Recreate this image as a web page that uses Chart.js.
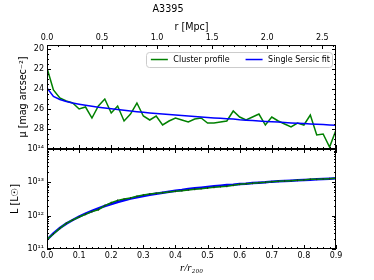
<!DOCTYPE html>
<html>
<head>
<meta charset="utf-8">
<script src="https://cdn.jsdelivr.net/npm/chart.js@4/dist/chart.umd.min.js"></script>
<style>
body{margin:0;background:#fff}
#wrap{position:relative;width:374px;height:280px}
canvas{position:absolute;left:0;top:0}
</style>
</head>
<body>
<div id="wrap">
<canvas id="topChart" width="374" height="280"></canvas>
<canvas id="bottomChart" width="374" height="280"></canvas>
</div>
<script>
// r / r200 sample radii
const radius = [0.00,0.02,0.04,0.06,0.08,0.10,0.12,0.14,0.16,0.18,
	0.20,0.22,0.24,0.26,0.28,0.30,0.32,0.34,0.36,0.38,
	0.40,0.42,0.44,0.46,0.48,0.50,0.52,0.54,0.56,0.58,
	0.60,0.62,0.64,0.66,0.68,0.70,0.72,0.74,0.76,0.78,
	0.80,0.82,0.84,0.86,0.88,0.90]

// surface brightness, mag arcsec^-2
const muProfile = [21.9,24.1,24.9,25.2,25.4,26.0,25.8,26.9,25.7,25.0,
	26.4,25.7,27.2,26.5,25.4,26.7,27.1,26.7,27.6,27.2,
	26.9,27.1,27.3,27.0,26.9,27.4,27.4,27.3,27.2,26.2,
	26.8,27.1,26.8,26.5,27.6,26.8,27.2,27.5,27.8,27.4,
	27.6,26.6,28.6,28.5,29.8,28.1]
const muSersic = [23.9,24.75,25.05,25.25,25.4,25.52,25.63,25.73,25.82,25.9,
	25.98,26.06,26.13,26.2,26.27,26.33,26.39,26.45,26.51,26.56,
	26.61,26.66,26.71,26.76,26.8,26.85,26.89,26.93,26.97,27.01,
	27.08,27.12,27.16,27.2,27.24,27.28,27.31,27.35,27.39,27.42,
	27.46,27.49,27.53,27.56,27.6,27.63]

// cumulative luminosity, L_sun
const lumProfile = [1.95e11,2.82e11,4.17e11,5.89e11,7.41e11,9.12e11,1.10e12,1.32e12,1.51e12,2.00e12,
	2.45e12,2.88e12,3.16e12,3.39e12,3.80e12,4.17e12,4.47e12,4.68e12,4.90e12,5.13e12,
	5.37e12,5.62e12,5.89e12,6.17e12,6.46e12,6.76e12,7.08e12,7.41e12,7.59e12,8.13e12,
	8.71e12,9.12e12,9.33e12,9.77e12,1.00e13,1.05e13,1.07e13,1.10e13,1.12e13,1.15e13,
	1.17e13,1.23e13,1.23e13,1.26e13,1.29e13,1.32e13]
const lumSersic = [1.91e11,2.95e11,4.27e11,5.75e11,7.41e11,9.33e11,1.15e12,1.38e12,1.66e12,1.95e12,
	2.24e12,2.57e12,2.88e12,3.24e12,3.55e12,3.89e12,4.27e12,4.57e12,4.90e12,5.25e12,
	5.62e12,5.89e12,6.31e12,6.61e12,6.92e12,7.24e12,7.59e12,7.94e12,8.32e12,8.51e12,
	8.91e12,9.12e12,9.55e12,9.77e12,1.00e13,1.05e13,1.07e13,1.10e13,1.12e13,1.15e13,
	1.17e13,1.20e13,1.23e13,1.26e13,1.29e13,1.32e13]

// tick labels
const fracTicks = [0.0,0.1,0.2,0.3,0.4,0.5,0.6,0.7,0.8,0.9]
const mpcTicks = [0.0,0.5,1.0,1.5,2.0,2.5]
const muTicks = [20,22,24,26,28]
const lumTicks = [1e11,1e12,1e13,1e14]
const lumLabels = ['10¹¹','10¹²','10¹³','10¹⁴']
const mpcMax = 2.625

const green = '#008000'
const blue = '#0000ff'

Chart.defaults.font.family = 'DejaVu Sans'
Chart.defaults.font.size = 8
Chart.defaults.color = '#000'

function pts(ys){ return radius.map((r,i)=>({x:r,y:ys[i]})) }
function fixTicks(list){ return s=>{ s.ticks = list.map(v=>({value:v})) } }

// matplotlib-like frame with inward major/minor ticks, plus an in-axes legend
const frameTicks = {
	id:'frameTicks',
	afterDraw(chart, args, o){
		const ctx = chart.ctx, a = chart.chartArea
		ctx.save()
		ctx.strokeStyle = '#000'
		ctx.lineWidth = 1
		const line = (x1,y1,x2,y2)=>{ ctx.beginPath(); ctx.moveTo(x1,y1); ctx.lineTo(x2,y2); ctx.stroke() }
		o.edges.forEach(e=>{
			const sc = chart.scales[e.scale]
			e.values.forEach(t=>{
				const p = Math.round(sc.getPixelForValue(t.v)) + 0.5
				const len = t.major ? 4 : 2
				if(e.side=='left') line(a.left, p, a.left+len, p)
				if(e.side=='right') line(a.right, p, a.right-len, p)
				if(e.side=='top') line(p, a.top, p, a.top+len)
				if(e.side=='bottom') line(p, a.bottom, p, a.bottom-len)
			})
		})
		ctx.strokeRect(a.left+0.5, a.top+0.5, a.right-a.left-1, a.bottom-a.top-1)

		if(o.legend){
			const ds = chart.data.datasets
			ctx.font = '8px "DejaVu Sans"'
			const widths = ds.map(d=>ctx.measureText(d.label).width)
			const lineLen = 17, gap = 5.5, itemGap = 16
			let total = 5 + 2
			widths.forEach((w,i)=>{ total += lineLen + gap + w + (i ? itemGap : 0) })
			const right = a.right - 4, left = right - total
			const top = a.top + 7, h = 15, cy = top + h/2
			ctx.fillStyle = 'rgba(255,255,255,0.9)'
			ctx.strokeStyle = '#cccccc'
			ctx.beginPath()
			ctx.roundRect(Math.round(left)+0.5, top+0.5, Math.round(total), h, 3)
			ctx.fill()
			ctx.stroke()
			let x = left + 5
			ds.forEach((d,i)=>{
				ctx.strokeStyle = d.borderColor
				ctx.lineWidth = 1.5
				line(x, cy, x+lineLen, cy)
				x += lineLen + gap
				ctx.fillStyle = '#000'
				ctx.textBaseline = 'middle'
				ctx.fillText(d.label, x, cy)
				x += widths[i] + itemGap
			})
		}
		ctx.restore()
	}
}

function linTicks(major, step, lo, hi){
	const out = []
	for(let v=lo; v<=hi+1e-9; v+=step){
		const isMajor = major.some(m=>Math.abs(m-v)<1e-6)
		out.push({v:v, major:isMajor})
	}
	return out
}
function logTicks(){
	const out = []
	for(let d=11; d<14; d++){
		for(let k=1;k<10;k++) out.push({v:k*Math.pow(10,d), major:k==1})
	}
	out.push({v:1e14, major:true})
	return out
}

const fracT = linTicks(fracTicks, 0.02, 0, 0.9)
const mpcT = linTicks(mpcTicks, 0.1, 0, 2.6)
const muT = linTicks([20,22,24,26,28,30], 0.5, 20, 30)
const lumT = logTicks()

// top panel: surface brightness
new Chart(document.getElementById('topChart'), {
	type:'line',
	data:{
		datasets:[
			{label:'Cluster profile', data:pts(muProfile), borderColor:green, borderWidth:1.5, pointRadius:0, order:2},
			{label:'Single Sersic fit', data:pts(muSersic), borderColor:blue, borderWidth:1.5, pointRadius:0, order:1}
		]
	},
	options:{
		responsive:false,
		animation:false,
		layout:{padding:{left:0, right:38, top:0, bottom:131}},
		scales:{
			x:{type:'linear', min:0, max:0.9, display:false},
			mpc:{type:'linear', position:'top', min:0, max:mpcMax,
				afterBuildTicks:fixTicks(mpcTicks),
				afterFit:s=>{ s.height = 27.5 },
				ticks:{callback:v=>v.toFixed(1), padding:2, maxRotation:0, autoSkip:false},
				grid:{display:false, drawTicks:false}, border:{display:false},
				title:{display:true, text:'r [Mpc]', font:{size:9.6}, padding:{top:4, bottom:0}}},
			y:{type:'linear', position:'left', reverse:true, min:19.6, max:30,
				afterBuildTicks:fixTicks(muTicks),
				afterFit:s=>{ s.width = 47 },
				ticks:{callback:v=>v, padding:3, autoSkip:false},
				grid:{display:false, drawTicks:false}, border:{display:false},
				title:{display:true, text:'μ [mag arcsec⁻²]', font:{size:9.6}, padding:{top:18, bottom:0}}}
		},
		plugins:{
			title:{display:true, text:'A3395', font:{size:9.6, weight:'normal'}, padding:{top:4, bottom:2}},
			legend:{display:false},
			tooltip:{enabled:false},
			frameTicks:{legend:true, edges:[
				{side:'left', scale:'y', values:muT},
				{side:'right', scale:'y', values:muT},
				{side:'top', scale:'mpc', values:mpcT},
				{side:'bottom', scale:'x', values:fracT}
			]}
		}
	},
	plugins:[frameTicks]
})

// bottom panel: cumulative luminosity
new Chart(document.getElementById('bottomChart'), {
	type:'line',
	data:{
		datasets:[
			{label:'Cluster profile', data:pts(lumProfile), borderColor:green, borderWidth:1.5,
				pointStyle:'line', rotation:90, pointRadius:1, pointBorderColor:'#222', pointBorderWidth:0.8, order:1},
			{label:'Single Sersic fit', data:pts(lumSersic), borderColor:blue, borderWidth:2.5, pointRadius:0, order:2}
		]
	},
	options:{
		responsive:false,
		animation:false,
		layout:{padding:{left:0, right:38, top:149, bottom:0}},
		scales:{
			x:{type:'linear', position:'bottom', min:0, max:0.9,
				afterBuildTicks:fixTicks(fracTicks),
				afterFit:s=>{ s.height = 31 },
				ticks:{callback:v=>v.toFixed(1), padding:2, maxRotation:0, autoSkip:false},
				grid:{display:false, drawTicks:false}, border:{display:false},
				title:{display:true, text:'r/r₂₀₀', font:{family:'Liberation Serif', style:'italic', size:11}, padding:{top:0, bottom:5}}},
			y:{type:'logarithmic', position:'left', min:1e11, max:1e14,
				afterBuildTicks:fixTicks(lumTicks),
				afterFit:s=>{ s.width = 47 },
				ticks:{callback:v=>lumLabels[lumTicks.indexOf(v)], padding:3, autoSkip:false},
				grid:{display:false, drawTicks:false}, border:{display:false},
				title:{display:true, text:'L [L☉]', font:{size:9.6}, padding:{top:10, bottom:0}}}
		},
		plugins:{
			legend:{display:false},
			tooltip:{enabled:false},
			frameTicks:{edges:[
				{side:'left', scale:'y', values:lumT},
				{side:'right', scale:'y', values:lumT},
				{side:'top', scale:'x', values:fracT},
				{side:'bottom', scale:'x', values:fracT}
			]}
		}
	},
	plugins:[frameTicks]
})
</script>
</body>
</html>
